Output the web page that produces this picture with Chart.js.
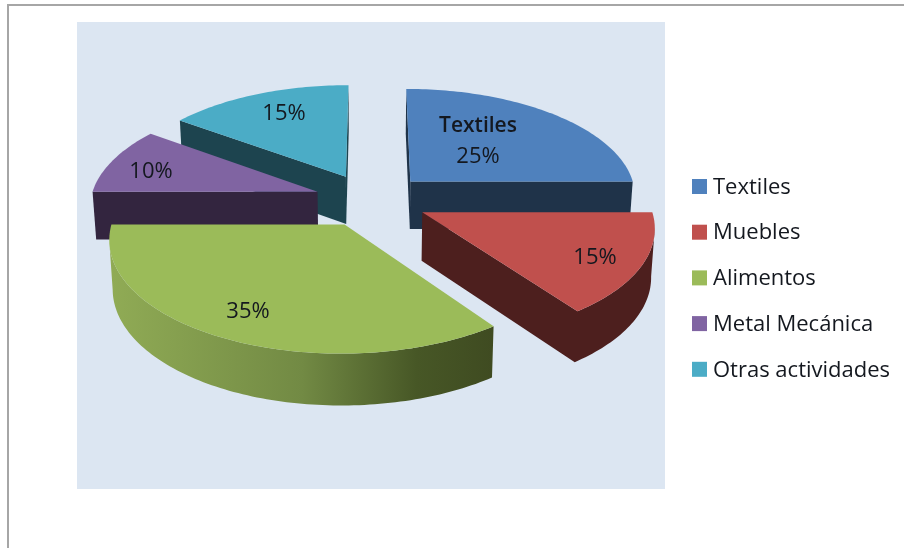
<!DOCTYPE html>
<html lang="es">
<head>
<meta charset="utf-8">
<title>Actividades</title>
<script src="https://cdn.jsdelivr.net/npm/chart.js@4"></script>
<style>
    body { margin: 0; background: #fff; }
    canvas { display: block; }
</style>
</head>
<body>
<canvas id="myChart" width="904" height="548"></canvas>
<script>
const categories = ["Textiles", "Muebles", "Alimentos", "Metal Mecánica", "Otras actividades"];
const shares = [25, 15, 35, 10, 15];

const topColors = ["#4f81bd", "#c0504d", "#9bbb59", "#8064a2", "#4bacc6"];
const wallColors = ["#1f3349", "#4d1f1e", "#4a5a28", "#33253f", "#1d444f"];

const FONT = "'Open Sans', sans-serif";
const TEXT_COLOR = "#14181f";

// tilted pie: centre, radii, perspective strength, explode distance, thickness
const view = { cx: 371, cy: 200, rx: 227, ry: 107.5, persp: 0.118, explode: 0.25, depth: 48, shrink: 0.987 };

// where each percentage sits on its slice
const labelSpots = [[478, 157], [595, 258], [248, 312], [151, 172], [284, 114]];

function project(pt, lower) {
    const w = 1 - view.persp * pt[1];
    if (lower) {
        return [
            view.cx + view.rx * pt[0] / w * view.shrink,
            view.cy + view.ry * pt[1] / w + view.depth / Math.sqrt(w)
        ];
    }
    return [view.cx + view.rx * pt[0] / w, view.cy + view.ry * pt[1] / w];
}

// outline of a slice on the pie plane, apex first
function sliceOutline(arc) {
    const mid = (arc.startAngle + arc.endAngle) / 2;
    const ax = view.explode * Math.cos(mid);
    const ay = view.explode * Math.sin(mid);
    const pts = [[ax, ay]];
    const steps = Math.ceil((arc.endAngle - arc.startAngle) / 0.02);
    for (let i = 0; i <= steps; i++) {
        const a = arc.startAngle + (arc.endAngle - arc.startAngle) * i / steps;
        pts.push([ax + Math.cos(a), ay + Math.sin(a)]);
    }
    return pts;
}

function wallFill(ctx, index) {
    // only the long front wall of Alimentos is shaded
    if (categories[index] !== "Alimentos") return wallColors[index];
    const grad = ctx.createLinearGradient(111, 0, 493, 0);
    grad.addColorStop(0, "#90ab55");
    grad.addColorStop(0.5, "#728a44");
    grad.addColorStop(0.8, "#475726");
    grad.addColorStop(1, "#3f4b21");
    return grad;
}

// fills one run of outline points as a wall down to the lower face
function fillWall(ctx, run) {
    ctx.beginPath();
    run.forEach(pt => {
        const s = project(pt, false);
        ctx.lineTo(s[0], s[1]);
    });
    run.slice().reverse().forEach(pt => {
        const s = project(pt, true);
        ctx.lineTo(s[0], s[1]);
    });
    ctx.closePath();
    ctx.fill();
}

function drawSlice(ctx, arc, index) {
    const pts = sliceOutline(arc);
    ctx.fillStyle = wallFill(ctx, index);

    // the outline runs clockwise, so edges heading left face the viewer
    let run = [];
    for (let i = 0; i < pts.length; i++) {
        const a = pts[i];
        const b = pts[(i + 1) % pts.length];
        if (project(b, false)[0] < project(a, false)[0]) {
            if (run.length === 0) run.push(a);
            run.push(b);
        } else if (run.length) {
            fillWall(ctx, run);
            run = [];
        }
    }
    if (run.length) fillWall(ctx, run);

    ctx.fillStyle = topColors[index];
    ctx.beginPath();
    pts.forEach(pt => {
        const s = project(pt, false);
        ctx.lineTo(s[0], s[1]);
    });
    ctx.closePath();
    ctx.fill();
}

const pie3d = {
    id: "pie3d",
    beforeDraw(chart) {
        const ctx = chart.ctx;
        // sheet border and chart panel
        ctx.fillStyle = "#a6a6a6";
        ctx.fillRect(7, 4, 897, 2);
        ctx.fillRect(7, 4, 2, 544);
        ctx.fillStyle = "#dce6f2";
        ctx.fillRect(77, 22, 588, 467);
    },
    beforeDatasetDraw(chart) {
        const ctx = chart.ctx;
        const arcs = chart.getDatasetMeta(0).data;
        const order = arcs.map((arc, i) => i).sort((a, b) => {
            return Math.sin((arcs[a].startAngle + arcs[a].endAngle) / 2)
                 - Math.sin((arcs[b].startAngle + arcs[b].endAngle) / 2);
        });
        ctx.save();
        order.forEach(i => drawSlice(ctx, arcs[i], i));
        ctx.restore();
        return false;
    },
    afterDraw(chart) {
        const ctx = chart.ctx;
        ctx.save();
        ctx.font = "22px " + FONT;
        ctx.textBaseline = "middle";
        ctx.fillStyle = TEXT_COLOR;

        // value labels
        ctx.textAlign = "center";
        shares.forEach((value, i) => {
            ctx.fillText(value + "%", labelSpots[i][0], labelSpots[i][1]);
        });
        ctx.font = "600 21px " + FONT;
        ctx.fillText(categories[0], labelSpots[0][0], labelSpots[0][1] - 31);
        ctx.font = "22px " + FONT;

        // legend
        ctx.textAlign = "left";
        categories.forEach((name, i) => {
            const y = 186.5 + i * 45.7;
            ctx.fillStyle = topColors[i];
            ctx.fillRect(692, y - 7.5, 15, 15);
            ctx.fillStyle = TEXT_COLOR;
            ctx.fillText(name, 713, y + 1);
        });
        ctx.restore();
    }
};

new Chart(document.getElementById("myChart"), {
    type: "pie",
    data: {
        labels: categories,
        datasets: [{ data: shares, backgroundColor: topColors, borderWidth: 0 }]
    },
    options: {
        responsive: false,
        animation: false,
        plugins: {
            legend: { display: false },
            tooltip: { enabled: false }
        }
    },
    plugins: [pie3d]
});
</script>
</body>
</html>
